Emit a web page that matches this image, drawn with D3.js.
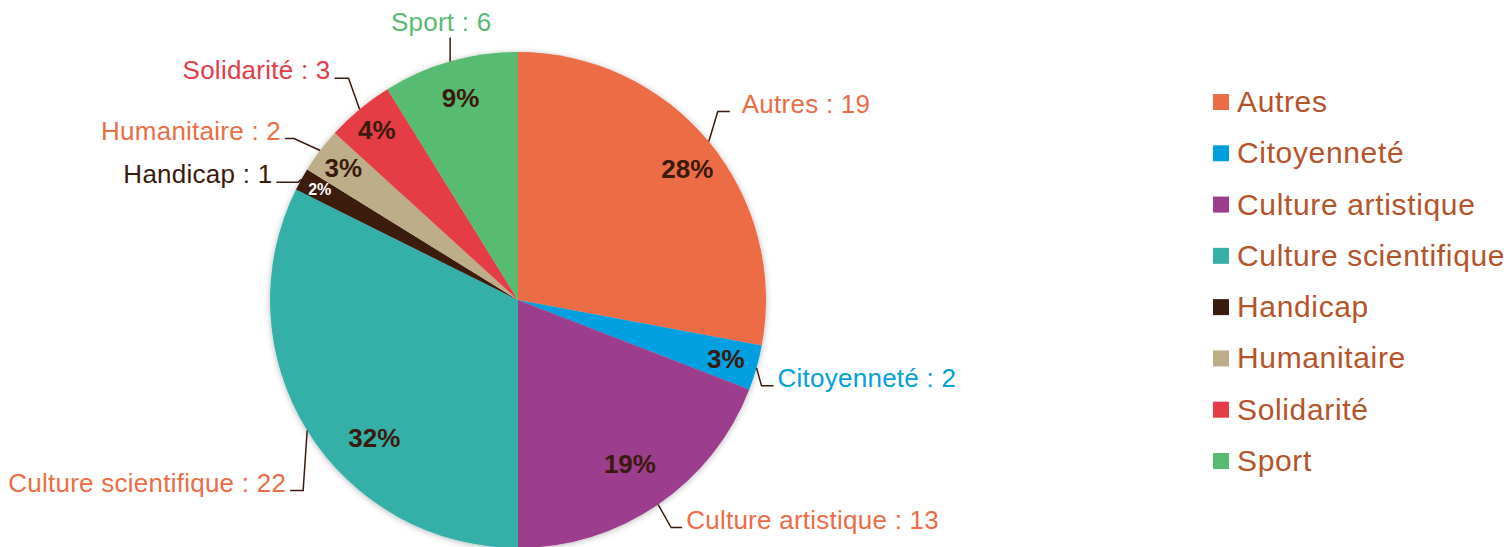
<!DOCTYPE html>
<html>
<head>
<meta charset="utf-8">
<script src="https://cdn.jsdelivr.net/npm/d3@7"></script>
<style>
  html, body { margin: 0; padding: 0; background: #fff; }
  svg { display: block; font-family: "Liberation Sans", Arial, sans-serif; }
</style>
</head>
<body>
<svg width="1511" height="547"></svg>
<script>
// data
const categories = ["Autres", "Citoyenneté", "Culture artistique", "Culture scientifique",
    "Handicap", "Humanitaire", "Solidarité", "Sport"];
const counts = [19, 2, 13, 22, 1, 2, 3, 6];
const pctLabels = ["28%", "3%", "19%", "32%", "2%", "3%", "4%", "9%"];

const sliceColors = ["#ec6d45", "#009fdf", "#9d3d8e", "#35b0a9", "#3b1a0e", "#bdad89", "#e53c45", "#58bb72"];
const outerLabelColors = ["#ec6d45", "#009fdf", "#ec6d45", "#ec6d45", "#3b1a0e", "#ec6d45", "#e53c45", "#58bb72"];

const svg = d3.select("svg"),
    cx = 518,
    cy = 300,
    radius = 248;

const ink = "#3b1a0e";

const defs = svg.append("defs");
defs.append("filter")
    .attr("id", "shadow")
    .attr("x", "-10%").attr("y", "-10%")
    .attr("width", "120%").attr("height", "120%")
    .append("feDropShadow")
    .attr("dx", 0).attr("dy", 1)
    .attr("stdDeviation", 3)
    .attr("flood-color", "#000")
    .attr("flood-opacity", 0.28);

const pie = d3.pie().sort(null).value(d => d.value);
const arcs = pie(categories.map((c, i) => ({ name: c, value: counts[i], i: i })));
const arc = d3.arc().innerRadius(0).outerRadius(radius);

const g = svg.append("g").attr("transform", `translate(${cx},${cy})`);

g.append("g")
    .attr("filter", "url(#shadow)")
    .selectAll("path")
    .data(arcs)
    .enter().append("path")
    .attr("d", arc)
    .attr("fill", d => sliceColors[d.data.i]);

// polar helper: angle measured clockwise from 12 o'clock
function polar(angle, r) {
    return [r * Math.sin(angle), -r * Math.cos(angle)];
}
const mid = d => (d.startAngle + d.endAngle) / 2;
const deg = Math.PI / 180;

// percentage labels (radius and small angle nudge per slice, as in the original layout)
const pctRadius = [214, 216, 198, 199, 227, 219, 221, 210];
const pctNudge = [2, 0, 0, -12, 0, 0, 0, 0];

g.append("g")
    .selectAll("text")
    .data(arcs)
    .enter().append("text")
    .attr("transform", d => {
        const p = polar(mid(d) + pctNudge[d.data.i] * deg, pctRadius[d.data.i]);
        return `translate(${p[0]},${p[1]})`;
    })
    .attr("text-anchor", "middle")
    .attr("dy", "0.36em")
    .attr("font-weight", "bold")
    .attr("font-size", d => d.data.value === 1 ? 16 : 26)
    .attr("fill", d => d.data.value === 1 ? "#fff" : ink)
    .text(d => pctLabels[d.data.i]);

// leader lines: elbow offset from the slice edge point, then a short horizontal run
const elbow = [[9, -30], [5, 18], [13, 23], [-4, 60], [-3, 3], [-26, -12], [-11, -31], [0, -24]];
const run = [12, 12, 11, -13, -22, -9, -14, 0];
const gap = [12, 4, 4, 4, 4, 4, 4, 0];

const labels = g.append("g");
arcs.forEach(d => {
    const i = d.data.i;
    const e = polar(mid(d), radius);
    const b = [e[0] + elbow[i][0], e[1] + elbow[i][1]];
    const t = [b[0] + run[i], b[1]];
    labels.append("path")
        .attr("d", d3.line()([e, b, t]))
        .attr("fill", "none")
        .attr("stroke", ink)
        .attr("stroke-width", 1.5);

    const txt = labels.append("text")
        .attr("font-size", 26)
        .attr("letter-spacing", 0.25)
        .attr("fill", outerLabelColors[i])
        .text(`${d.data.name} : ${d.data.value}`);
    if (run[i] > 0) {
        txt.attr("x", t[0] + gap[i]).attr("y", t[1] + 1).attr("text-anchor", "start");
    } else if (run[i] < 0) {
        txt.attr("x", t[0] - gap[i]).attr("y", t[1] + 1).attr("text-anchor", "end");
    } else {
        txt.attr("x", t[0] - 9).attr("y", t[1] - 6).attr("text-anchor", "middle");
    }
});

// legend
const legendY = d3.scalePoint()
    .domain(categories)
    .range([102, 461]);

const legend = svg.append("g")
    .selectAll("g")
    .data(categories)
    .enter().append("g")
    .attr("transform", d => `translate(1213,${legendY(d)})`);

legend.append("rect")
    .attr("x", 0)
    .attr("y", -8)
    .attr("width", 16)
    .attr("height", 16)
    .attr("fill", (d, i) => sliceColors[i]);

legend.append("text")
    .attr("x", 24)
    .attr("y", 10)
    .attr("font-size", 30)
    .attr("letter-spacing", 0.65)
    .attr("fill", "#b5532a")
    .text(d => d);
</script>
</body>
</html>
